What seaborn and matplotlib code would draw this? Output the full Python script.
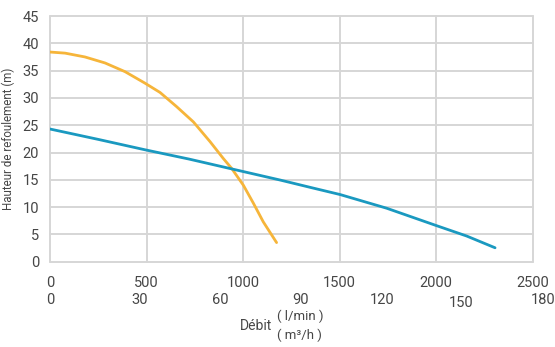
import matplotlib
matplotlib.use("Agg")
import matplotlib.pyplot as plt
import matplotlib.transforms as mtransforms
import seaborn as sns
import pandas as pd

# ---- data ----
orange_q = [0, 78, 181, 285, 389, 492, 570, 656, 743, 829, 898, 941,
            1002, 1054, 1105, 1174]
orange_h = [38.4, 38.2, 37.5, 36.4, 34.8, 32.7, 31.0, 28.4, 25.6, 22.0,
            18.9, 17.1, 14.0, 10.7, 7.3, 3.5]
blue_q = [0, 250, 492, 720, 941, 1192, 1350, 1503, 1744, 2003, 2159, 2306]
blue_h = [24.3, 22.4, 20.5, 18.8, 17.0, 14.96, 13.6, 12.3, 9.8, 6.6, 4.7, 2.55]
lmin_ticks = [0, 500, 1000, 1500, 2000, 2500]
y_ticks = [0, 5, 10, 15, 20, 25, 30, 35, 40, 45]
m3h_labels = ["0", "30", "60", "90", "120", "150", "180"]
y_label = "Hauteur de refoulement (m)"
x_label = "Débit"
unit1 = "( l/min )"
unit2 = "( m³/h )"

# layout of the second (m³/h) label row, in l/min coordinates
m3h_pos = [0, 463, 884, 1297, 1719, 2128, 2554]
m3h_dy = [0, 0, 0, 0, 0, 3, 0]

sns.set_theme(style="white")
plt.rcParams["font.family"] = ["Roboto", "DejaVu Sans"]

ORANGE = "#F6B53A"
BLUE = "#1A99C0"
TXT = "#464646"
GRID = "#d6d6d6"

fig = plt.figure(figsize=(5.55, 3.47), dpi=100)
ax = fig.add_axes([50 / 555, 1 - 261.7 / 347, 482.5 / 555, (261.7 - 16) / 347])

df_o = pd.DataFrame({"q": orange_q, "h": orange_h})
df_b = pd.DataFrame({"q": blue_q, "h": blue_h})
sns.lineplot(data=df_o, x="q", y="h", ax=ax, color=ORANGE, lw=2.0, sort=False)
sns.lineplot(data=df_b, x="q", y="h", ax=ax, color=BLUE, lw=2.0, sort=False)
for ln in ax.get_lines():
    ln.set_solid_joinstyle("round")

ax.set_xlim(0, 2500)
ax.set_ylim(0, 45)
ax.set_xticks(lmin_ticks)
ax.set_yticks(y_ticks)
ax.set_xticklabels([str(t) for t in lmin_ticks])
ax.set_yticklabels([str(t) for t in y_ticks])
ax.grid(True, color=GRID, lw=1.4)
ax.set_axisbelow(True)
for gl in ax.get_xgridlines() + ax.get_ygridlines():
    gl.set_clip_on(False)
for s in ax.spines.values():
    s.set_visible(False)
ax.tick_params(axis="x", length=3, color=GRID, width=1.2, pad=7,
               labelsize=10.5, labelcolor=TXT)
ax.tick_params(axis="y", length=0, pad=8, labelsize=10.5, labelcolor=TXT)
ax.set_xlabel("")
ax.set_ylabel(y_label, fontsize=8.3, color=TXT, labelpad=5)

trans = mtransforms.blended_transform_factory(ax.transData, fig.transFigure)
for lab, xp, dy in zip(m3h_labels, m3h_pos, m3h_dy):
    ax.text(xp, 1 - (300 + dy) / 347, lab, transform=trans, ha="center",
            va="center", fontsize=10.5, color=TXT, clip_on=False)

fig.text(256 / 555, 1 - 326 / 347, x_label, ha="center", va="center",
         fontsize=10, color=TXT)
fig.text(277 / 555, 1 - 316 / 347, unit1, ha="left", va="center",
         fontsize=9.5, color=TXT)
fig.text(277 / 555, 1 - 335 / 347, unit2, ha="left", va="center",
         fontsize=9.5, color=TXT)

fig.savefig("out.png", dpi=100)
